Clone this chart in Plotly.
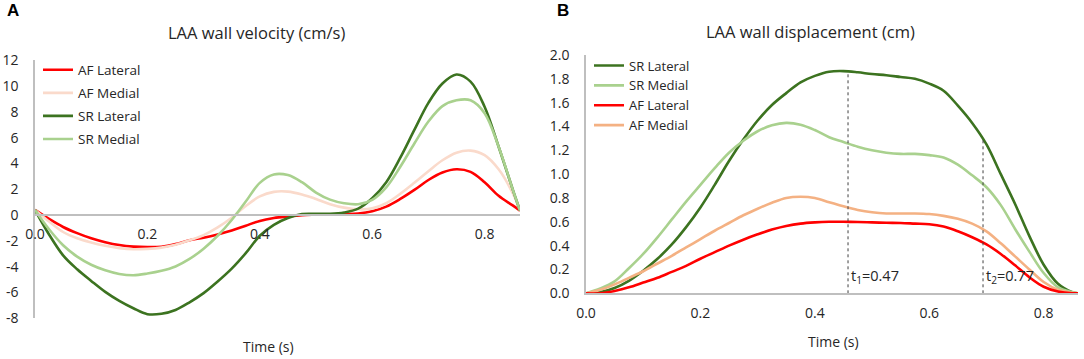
import numpy as np
import plotly.graph_objects as go

# ---------------- data: panel A (velocity, cm/s) ----------------
time_a = [0.0, 0.025, 0.05, 0.075, 0.1, 0.125, 0.15, 0.175, 0.2, 0.225, 0.25, 0.275,
          0.3, 0.325, 0.35, 0.375, 0.4, 0.425, 0.45, 0.475, 0.5, 0.525, 0.55, 0.575,
          0.6, 0.625, 0.65, 0.675, 0.7, 0.725, 0.75, 0.775, 0.8, 0.825, 0.85, 0.863]
vel_af_lat = [0.4, -0.3, -0.92, -1.4, -1.8, -2.1, -2.32, -2.44, -2.48, -2.45, -2.25, -1.95,
              -1.75, -1.5, -1.2, -0.82, -0.45, -0.23, -0.1, 0.0, 0.03, 0.05, 0.08, 0.13,
              0.3, 0.66, 1.25, 1.95, 2.72, 3.3, 3.55, 3.35, 2.55, 1.5, 0.75, 0.35]
vel_af_med = [0.4, -0.5, -1.31, -1.8, -2.12, -2.38, -2.56, -2.65, -2.62, -2.52, -2.3, -1.95,
              -1.55, -0.95, -0.2, 0.7, 1.45, 1.8, 1.82, 1.6, 1.25, 0.85, 0.58, 0.45,
              0.52, 0.92, 1.65, 2.5, 3.4, 4.25, 4.84, 5.0, 4.65, 3.55, 1.7, 0.35]
vel_sr_lat = [0.4, -1.5, -3.12, -4.2, -5.1, -5.95, -6.65, -7.22, -7.68, -7.65, -7.35, -6.76,
              -6.05, -5.15, -4.15, -2.95, -1.6, -0.75, -0.22, 0.08, 0.1, 0.1, 0.2, 0.5,
              1.3, 2.55, 4.45, 6.6, 8.7, 10.2, 10.9, 10.35, 8.4, 5.3, 2.0, 0.35]
vel_sr_med = [0.4, -1.1, -2.34, -3.22, -3.85, -4.28, -4.56, -4.66, -4.53, -4.32, -3.98, -3.4,
              -2.6, -1.6, -0.38, 1.05, 2.5, 3.15, 3.1, 2.55, 1.75, 1.2, 0.92, 0.84,
              1.18, 2.15, 3.75, 5.55, 7.25, 8.45, 8.9, 8.9, 7.9, 5.3, 2.0, 0.35]

# ---------------- data: panel B (displacement, cm) ----------------
time_b = [0.0, 0.025, 0.05, 0.075, 0.1, 0.125, 0.15, 0.175, 0.2, 0.225, 0.25, 0.275,
          0.3, 0.325, 0.35, 0.375, 0.4, 0.425, 0.45, 0.475, 0.5, 0.525, 0.55, 0.575,
          0.6, 0.625, 0.65, 0.675, 0.7, 0.725, 0.75, 0.775, 0.8, 0.825, 0.85, 0.86]
disp_sr_lat = [0.0, 0.01, 0.045, 0.105, 0.19, 0.29, 0.41, 0.555, 0.72, 0.91, 1.11, 1.29,
               1.45, 1.58, 1.68, 1.77, 1.825, 1.86, 1.865, 1.855, 1.84, 1.83, 1.815, 1.80,
               1.76, 1.70, 1.575, 1.43, 1.25, 1.0, 0.75, 0.48, 0.24, 0.08, 0.01, 0.0]
disp_sr_med = [0.0, 0.04, 0.1, 0.21, 0.33, 0.47, 0.62, 0.77, 0.91, 1.05, 1.18, 1.28,
               1.36, 1.41, 1.43, 1.415, 1.37, 1.31, 1.27, 1.23, 1.2, 1.18, 1.17, 1.17,
               1.16, 1.14, 1.08, 0.99, 0.89, 0.74, 0.54, 0.35, 0.17, 0.05, 0.01, 0.0]
disp_af_lat = [0.0, 0.0, 0.02, 0.05, 0.09, 0.13, 0.18, 0.23, 0.29, 0.345, 0.40, 0.45,
               0.495, 0.535, 0.565, 0.585, 0.595, 0.60, 0.60, 0.598, 0.595, 0.592, 0.59, 0.585,
               0.58, 0.56, 0.52, 0.47, 0.41, 0.33, 0.235, 0.135, 0.055, 0.015, 0.0, 0.0]
disp_af_med = [0.0, 0.03, 0.075, 0.13, 0.185, 0.25, 0.315, 0.385, 0.455, 0.525, 0.59, 0.655,
               0.71, 0.76, 0.80, 0.81, 0.80, 0.765, 0.73, 0.70, 0.68, 0.67, 0.67, 0.67,
               0.665, 0.65, 0.625, 0.585, 0.52, 0.42, 0.31, 0.20, 0.095, 0.03, 0.005, 0.0]

# marker times in panel B and their labels
t_marks = [0.458, 0.694]
t_labels = ["t<sub>1</sub>=0.47", "t<sub>2</sub>=0.77"]
t_label_y = 0.14

# ticks
xticks = [0.0, 0.2, 0.4, 0.6, 0.8]
yticks_a = [12, 10, 8, 6, 4, 2, 0, -2, -4, -6, -8]
yticks_b = [0.0, 0.2, 0.4, 0.6, 0.8, 1.0, 1.2, 1.4, 1.6, 1.8, 2.0]

# ---------------- styling ----------------
W, H = 1084, 359
FONT = "Open Sans"
TXT = "#262626"
AXC = "#BFBFBF"
RED = "#FF0000"
PEACH_A = "#FADACB"
PEACH_B = "#F4B183"
DKGREEN = "#3C7320"
LTGREEN = "#A9D18E"

def px_x(p):
    return p / W

def px_y(p):
    return (H - p) / H

xr_a = [0, 0.863]
yr_a = [-8, 12]
xd_a = [px_x(35), px_x(520)]
yd_a = [px_y(318.3), px_y(60.3)]

xr_b = [0, 0.86]
yr_b = [0, 2.0]
xd_b = [px_x(586), px_x(1078)]
yd_b = [px_y(293.3), px_y(55)]

zero_pos_a = yd_a[0] + (0 - yr_a[0]) / (yr_a[1] - yr_a[0]) * (yd_a[1] - yd_a[0])

fig = go.Figure()

def add_line(x, y, name, color, xa, ya, legend, rank, width=2.6):
    fig.add_trace(go.Scatter(
        x=x, y=y, name=name, mode="lines",
        line=dict(color=color, width=width, shape="spline", smoothing=1.0),
        xaxis=xa, yaxis=ya, legend=legend, legendgroup=legend + name, legendrank=rank,
        hoverinfo="skip"))

# Panel A
add_line(time_a, vel_af_lat, "AF Lateral", RED, "x", "y", "legend", 1)
add_line(time_a, vel_af_med, "AF Medial", PEACH_A, "x", "y", "legend", 2)
add_line(time_a, vel_sr_lat, "SR Lateral", DKGREEN, "x", "y", "legend", 3)
add_line(time_a, vel_sr_med, "SR Medial", LTGREEN, "x", "y", "legend", 4)

# Panel B
add_line(time_b, disp_sr_lat, "SR Lateral", DKGREEN, "x2", "y2", "legend2", 1)
add_line(time_b, disp_sr_med, "SR Medial", LTGREEN, "x2", "y2", "legend2", 2)
add_line(time_b, disp_af_med, "AF Medial", PEACH_B, "x2", "y2", "legend2", 4)
add_line(time_b, disp_af_lat, "AF Lateral", RED, "x2", "y2", "legend2", 3)

# dotted time markers in panel B
for t, lab in zip(t_marks, t_labels):
    top = float(np.interp(t, time_b, disp_sr_lat))
    fig.add_trace(go.Scatter(
        x=[t, t], y=[0, top], mode="lines",
        line=dict(color="#404040", width=1, dash="dot"),
        xaxis="x2", yaxis="y2", showlegend=False, hoverinfo="skip"))
    fig.add_annotation(x=t, y=t_label_y, xref="x2", yref="y2", text=lab,
                       showarrow=False, xanchor="left", yanchor="middle", xshift=1,
                       font=dict(family=FONT, size=14.5, color=TXT))

tickfont = dict(family=FONT, size=14, color=TXT)
common = dict(showline=True, linecolor=AXC, linewidth=1.5, showgrid=False,
              zeroline=False, ticks="", automargin=False, tickfont=tickfont)

fig.update_layout(
    width=W, height=H,
    margin=dict(l=0, r=0, t=0, b=0, autoexpand=False),
    paper_bgcolor="white", plot_bgcolor="white",
    showlegend=True,
    xaxis=dict(domain=xd_a, range=xr_a, anchor="free", position=zero_pos_a,
               tickvals=xticks, ticktext=[f"{v:.1f}" for v in xticks],
               ticklabelstandoff=6, **common),
    yaxis=dict(domain=yd_a, range=yr_a, anchor="x",
               tickvals=yticks_a, ticktext=[str(v) for v in yticks_a],
               ticklabelstandoff=12, **common),
    xaxis2=dict(domain=xd_b, range=xr_b, anchor="y2",
                tickvals=xticks, ticktext=[f"{v:.1f}" for v in xticks],
                ticklabelstandoff=6, **common),
    yaxis2=dict(domain=yd_b, range=yr_b, anchor="x2",
                tickvals=yticks_b, ticktext=[f"{v:.1f}" for v in yticks_b],
                ticklabelstandoff=12, **common),
    legend=dict(x=px_x(38), y=px_y(54.5), xanchor="left", yanchor="top",
                bgcolor="rgba(0,0,0,0)", font=dict(family=FONT, size=13.5, color=TXT),
                traceorder="grouped", tracegroupgap=2.5, itemwidth=30),
    legend2=dict(x=px_x(589), y=px_y(50.5), xanchor="left", yanchor="top",
                 bgcolor="rgba(0,0,0,0)", font=dict(family=FONT, size=13, color=TXT),
                 traceorder="grouped", tracegroupgap=0, itemwidth=30),
)

annots = [
    dict(text="<b>A</b>", x=px_x(13), y=px_y(10), size=17, fam="Liberation Sans", col="#000000"),
    dict(text="<b>B</b>", x=px_x(563), y=px_y(10), size=17, fam="Liberation Sans", col="#000000"),
    dict(text="LAA wall velocity (cm/s)", x=px_x(256.5), y=px_y(32.3), size=16.5, fam=FONT, col=TXT),
    dict(text="LAA wall displacement (cm)", x=px_x(810.6), y=px_y(32), size=16.5, fam=FONT, col=TXT),
    dict(text="Time (s)", x=px_x(268), y=px_y(346.7), size=14, fam=FONT, col=TXT),
    dict(text="Time (s)", x=px_x(833), y=px_y(341.7), size=14, fam=FONT, col=TXT),
]
for a in annots:
    fig.add_annotation(text=a["text"], x=a["x"], y=a["y"], xref="paper", yref="paper",
                       showarrow=False, xanchor="center", yanchor="middle",
                       font=dict(family=a["fam"], size=a["size"], color=a["col"]))

# remove the default page margin so the 1084x359 figure fills the window exactly
fig.write_html("out.html",
               config={"displayModeBar": False},
               post_script="document.body.style.margin='0px';document.body.style.overflow='hidden';")
